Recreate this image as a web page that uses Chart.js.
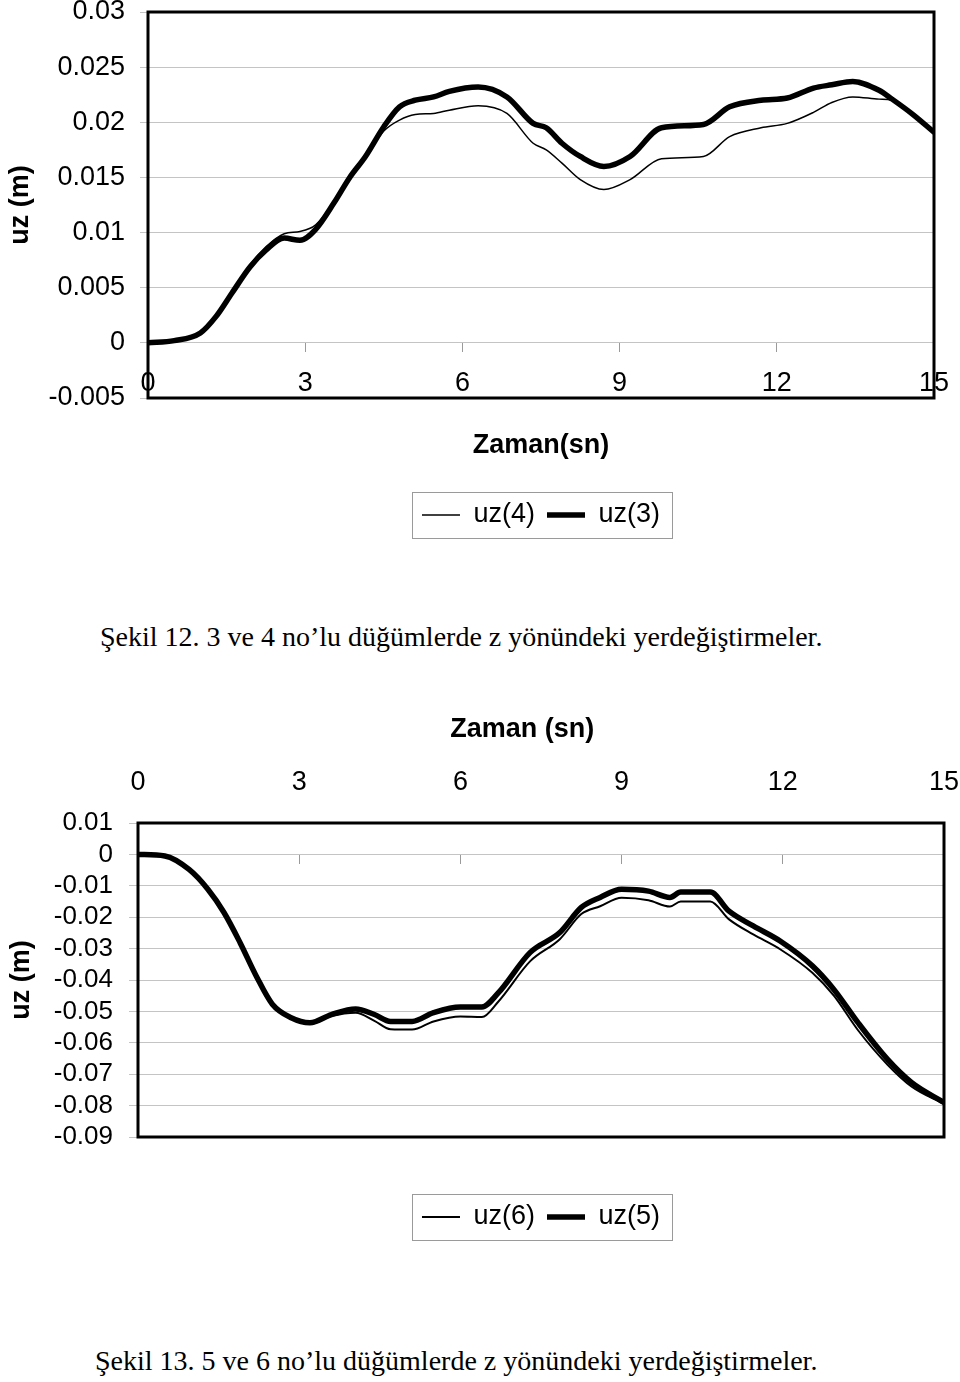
<!DOCTYPE html>
<html><head><meta charset="utf-8">
<script src="https://cdn.jsdelivr.net/npm/chart.js@4.4.0/dist/chart.umd.min.js"></script>
<style>
html,body{margin:0;padding:0;background:#fff;}
#wrap{position:relative;width:960px;height:1382px;overflow:hidden;background:#fff;}
canvas{position:absolute;left:0;}
.cap{position:absolute;font-family:'Liberation Serif','Times New Roman',serif;font-size:28px;line-height:32px;color:#000;white-space:nowrap;}
</style></head><body>
<div id="wrap">
<canvas id="c1" width="960" height="560" style="top:0"></canvas>
<div class="cap" style="left:100px;top:621px">Şekil 12. 3 ve 4 no’lu düğümlerde z yönündeki yerdeğiştirmeler.</div>
<canvas id="c2" width="960" height="580" style="top:690px"></canvas>
<div class="cap" style="left:95px;top:1345px">Şekil 13. 5 ve 6 no’lu düğümlerde z yönündeki yerdeğiştirmeler.</div>
</div>
<script>
// ---- data: chart 1 (Şekil 12) ----
const t1  = [0, 0.5, 1.0, 1.3, 1.6, 1.95, 2.25, 2.6, 2.9, 3.2, 3.55, 3.85, 4.15, 4.5, 4.8, 5.1, 5.45, 5.75, 6.3, 6.85, 7.35, 7.6, 7.9, 8.25, 8.7, 9.2, 9.8, 10.6, 11.1, 11.7, 12.2, 12.7, 13.05, 13.45, 13.95, 14.2, 14.6, 15.0];
const uz3 = [0, 0.0002, 0.0009, 0.0024, 0.0045, 0.0069, 0.0084, 0.0095, 0.0093, 0.0103, 0.0127, 0.0150, 0.0169, 0.0196, 0.0214, 0.0220, 0.0223, 0.0228, 0.0232, 0.0223, 0.0199, 0.0195, 0.0181, 0.0169, 0.0160, 0.0169, 0.0195, 0.0198, 0.0214, 0.0220, 0.0222, 0.0231, 0.0234, 0.0237, 0.0229, 0.0221, 0.0207, 0.0191];
const uz4 = [0, 0.0002, 0.0009, 0.0024, 0.0046, 0.0071, 0.0087, 0.0099, 0.0101, 0.0107, 0.0128, 0.0151, 0.0168, 0.0192, 0.0202, 0.0207, 0.0208, 0.0211, 0.0215, 0.0208, 0.0181, 0.0175, 0.0163, 0.0148, 0.0139, 0.0148, 0.0167, 0.0169, 0.0187, 0.0195, 0.0199, 0.0209, 0.0218, 0.0223, 0.0221, 0.0220, 0.0207, 0.0191];
// ---- data: chart 2 (Şekil 13) ----
const t2  = [0, 0.5, 0.95, 1.3, 1.6, 1.9, 2.2, 2.5, 2.85, 3.2, 3.6, 4.05, 4.4, 4.7, 5.1, 5.5, 6.0, 6.4, 6.7, 7.3, 7.85, 8.25, 8.6, 9.0, 9.5, 9.9, 10.1, 10.65, 11.0, 11.45, 11.95, 12.55, 12.95, 13.4, 13.95, 14.4, 15.0];
const uz5 = [0, -0.0005, -0.0048, -0.0111, -0.0185, -0.0281, -0.0387, -0.0477, -0.0520, -0.0536, -0.0510, -0.0492, -0.0510, -0.0532, -0.0532, -0.0504, -0.0486, -0.0486, -0.0442, -0.0312, -0.0249, -0.0169, -0.0137, -0.0111, -0.0117, -0.0137, -0.0120, -0.0120, -0.0181, -0.0228, -0.0276, -0.0355, -0.0430, -0.0536, -0.0653, -0.0727, -0.0790];
const uz6 = [0, -0.0005, -0.0048, -0.0111, -0.0185, -0.0281, -0.0387, -0.0477, -0.0522, -0.0540, -0.0515, -0.0504, -0.0530, -0.0557, -0.0558, -0.0532, -0.0516, -0.0518, -0.0470, -0.0340, -0.0270, -0.0190, -0.0165, -0.0138, -0.0146, -0.0166, -0.0150, -0.0150, -0.0207, -0.0255, -0.0302, -0.0377, -0.0450, -0.0560, -0.0670, -0.0740, -0.0795];
// ---- ticks ----
const xTicks  = [0, 3, 6, 9, 12, 15];
const yTicks1 = [-0.005, 0, 0.005, 0.01, 0.015, 0.02, 0.025, 0.03];
const yTicks2 = [-0.09, -0.08, -0.07, -0.06, -0.05, -0.04, -0.03, -0.02, -0.01, 0, 0.01];

Chart.defaults.font.family = "'Liberation Sans', Arial, Helvetica, sans-serif";
Chart.defaults.color = '#000';

const fmt = v => { const n = Number(Number(v).toFixed(4)); return (n === 0 ? 0 : n).toString(); };
const setTicks = arr => (s => { s.ticks = arr.map(v => ({value: v})); });
const pts = (xs, ys) => xs.map((x, i) => ({x: x, y: ys[i]}));
const noPadX = s => { s.paddingLeft = 0; s.paddingRight = 0; };
const fitY = w => (s => { s.width = w; s.paddingTop = 0; s.paddingBottom = 0; });

const frame = {
  id: 'frame',
  afterDraw(chart) {
    const {ctx, chartArea: a} = chart;
    ctx.save();
    ctx.strokeStyle = '#000';
    ctx.lineWidth = 3;
    ctx.strokeRect(a.left, a.top, a.right - a.left, a.bottom - a.top);
    const lg = chart.legend;
    if (lg && lg.legendHitBoxes && lg.legendHitBoxes.length) {
      let l = Infinity, r = -Infinity, cy = 0;
      lg.legendHitBoxes.forEach(h => { l = Math.min(l, h.left); r = Math.max(r, h.left + h.width); cy = h.top + h.height / 2; });
      ctx.lineWidth = 1;
      ctx.strokeStyle = '#9a9a9a';
      ctx.strokeRect(Math.round(l - 10) + 0.5, Math.round(cy - 23) + 0.5, Math.round(r - l + 22), 46);
    }
    ctx.restore();
  }
};

const thin = (label, data, w) => ({label, data, borderColor: '#000', backgroundColor: '#000', borderWidth: w, pointRadius: 0, fill: false, cubicInterpolationMode: 'monotone', borderJoinStyle: 'round'});
const thick = (label, data) => ({label, data, borderColor: '#000', backgroundColor: '#000', borderWidth: 5.5, pointRadius: 0, fill: false, cubicInterpolationMode: 'monotone', borderJoinStyle: 'round', borderCapStyle: 'round'});

const legendLabels = {font: {size: 27}, usePointStyle: true, pointStyle: 'line', pointStyleWidth: 38, padding: 12, color: '#000'};
const yTitle = pad => ({display: true, text: 'uz (m)', color: '#000', font: {size: 27, weight: 'bold'}, padding: {top: pad, bottom: 0}});

new Chart(document.getElementById('c1'), {
  type: 'line',
  data: {datasets: [thin('uz(4)', pts(t1, uz4), 1.5), thick('uz(3)', pts(t1, uz3))]},
  options: {
    responsive: false, animation: false, events: [],
    layout: {padding: {left: 0, right: 26, top: 12, bottom: 21.5}},
    scales: {
      x: {type: 'linear', position: {y: 0}, min: 0, max: 15, afterBuildTicks: setTicks(xTicks), afterFit: noPadX,
          ticks: {font: {size: 27}, padding: 15.8, color: '#000', maxRotation: 0, autoSkip: false},
          grid: {drawOnChartArea: false, drawTicks: true, tickLength: 9, color: '#9a9a9a'},
          border: {display: false}},
      y: {type: 'linear', min: -0.005, max: 0.03, afterBuildTicks: setTicks(yTicks1), afterFit: fitY(148),
          ticks: {font: {size: 27, lineHeight: 1}, padding: 15, color: '#000', autoSkip: false, callback: v => fmt(v)},
          grid: {color: '#c4c4c4', tickLength: 8},
          border: {display: false},
          title: yTitle(4.8)}
    },
    plugins: {
      title: {display: true, text: 'Zaman(sn)', position: 'bottom', fullSize: false, weight: 500, color: '#000',
              font: {size: 27, weight: 'bold'}, padding: {top: 31.8, bottom: 27.3}},
      legend: {position: 'bottom', fullSize: false, labels: legendLabels},
      tooltip: {enabled: false}
    }
  },
  plugins: [frame]
});

new Chart(document.getElementById('c2'), {
  type: 'line',
  data: {datasets: [thin('uz(6)', pts(t2, uz6), 2), thick('uz(5)', pts(t2, uz5))]},
  options: {
    responsive: false, animation: false, events: [],
    layout: {padding: {left: 0, right: 16, top: 0, bottom: 29.5}},
    scales: {
      x: {type: 'linear', position: {y: 0}, min: 0, max: 15, afterBuildTicks: setTicks(xTicks), afterFit: noPadX,
          ticks: {display: false},
          grid: {drawOnChartArea: false, drawTicks: true, tickLength: 10, color: '#9a9a9a'},
          border: {display: false}},
      xTop: {type: 'linear', position: 'top', min: 0, max: 15, afterBuildTicks: setTicks(xTicks), afterFit: noPadX,
          ticks: {font: {size: 27, lineHeight: 1}, padding: 26.5, color: '#000', maxRotation: 0, autoSkip: false},
          grid: {display: false, drawTicks: false, tickLength: 0},
          border: {display: false}},
      y: {type: 'linear', min: -0.09, max: 0.01, afterBuildTicks: setTicks(yTicks2), afterFit: fitY(138),
          ticks: {font: {size: 26, lineHeight: 1}, padding: 16, color: '#000', autoSkip: false, callback: v => fmt(v)},
          grid: {color: '#c4c4c4', tickLength: 9},
          border: {display: false},
          title: yTitle(5.8)}
    },
    plugins: {
      title: {display: true, text: 'Zaman (sn)     ', position: 'top', fullSize: false, color: '#000',
              font: {size: 27, weight: 'bold', lineHeight: 1}, padding: {top: 26, bottom: 0}},
      legend: {position: 'bottom', fullSize: false, labels: legendLabels,
               title: {display: true, text: ' ', font: {size: 24}, padding: {top: 25.7, bottom: 0}}},
      tooltip: {enabled: false}
    }
  },
  plugins: [frame]
});
</script>
</body></html>
